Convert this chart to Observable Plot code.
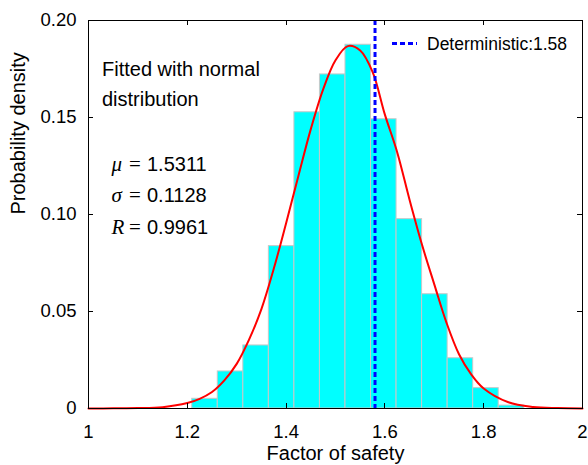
<!DOCTYPE html>
<html>
<head>
<meta charset="utf-8">
<script src="https://cdn.jsdelivr.net/npm/d3@7"></script>
<script src="https://cdn.jsdelivr.net/npm/@observablehq/plot@0.6"></script>
<style>
  html, body { margin: 0; padding: 0; background: #fff; }
  #chart { width: 588px; height: 465px; }
</style>
</head>
<body>
<div id="chart"></div>
<script>
// Histogram bin edges (factor of safety) and probability per bin
const binEdges = [1.2100, 1.2617, 1.3134, 1.3651, 1.4168, 1.4685, 1.5202, 1.5719, 1.6236, 1.6753, 1.7270, 1.7787, 1.8304, 1.8821];
const binDensity = [0.0050, 0.0191, 0.0325, 0.0837, 0.1527, 0.1722, 0.1875, 0.1491, 0.0976, 0.0589, 0.0259, 0.0105, 0.0015];

// Fitted normal curve
const fitX = [1.00, 1.05, 1.10, 1.15, 1.20, 1.225, 1.25, 1.275, 1.30, 1.325, 1.35, 1.375, 1.40, 1.425, 1.45, 1.475, 1.50, 1.525, 1.55, 1.575, 1.60, 1.625, 1.65, 1.675, 1.70, 1.725, 1.75, 1.775, 1.80, 1.85, 1.90, 1.95, 2.00];
const fitY = [0.0000, 0.0001, 0.0002, 0.0007, 0.0028, 0.0050, 0.0085, 0.0145, 0.0230, 0.0355, 0.0512, 0.0720, 0.0955, 0.1200, 0.1440, 0.1645, 0.1795, 0.1868, 0.1845, 0.1735, 0.1515, 0.1320, 0.1075, 0.0845, 0.0640, 0.0440, 0.0280, 0.0175, 0.0103, 0.0032, 0.0008, 0.0002, 0.0000];

// Deterministic factor of safety
const deterministic = [1.58];
const legendLabel = ["Deterministic:1.58"];

// Fit parameters
const fitSymbols = ["μ", "σ", "R"];
const fitValues = ["1.5311", "0.1128", "0.9961"];
const noteLines = ["Fitted with normal", "distribution"];

// Ticks
const xTicks = [1, 1.2, 1.4, 1.6, 1.8, 2];
const xTickLabels = ["1", "1.2", "1.4", "1.6", "1.8", "2"];
const yTicks = [0, 0.05, 0.10, 0.15, 0.20];
const yTickLabels = ["0", "0.05", "0.10", "0.15", "0.20"];

const xLabel = "Factor of safety";
const yLabel = "Probability density";

const bins = binDensity.map((d, i) => ({x1: binEdges[i], x2: binEdges[i + 1], y: d}));
const fit = fitX.map((x, i) => ({x, y: fitY[i]}));

const sans = "'Liberation Sans', Arial, Helvetica, sans-serif";
const serif = "'Liberation Serif', 'Times New Roman', serif";

// inward ticks on all four sides, placed with the plot's own scales
const innerTicks = (index, scales, values, dims) => {
  const g = d3.create("svg:g").attr("stroke", "#000").attr("stroke-width", 1);
  const L = dims.marginLeft, R = dims.width - dims.marginRight;
  const T = dims.marginTop, B = dims.height - dims.marginBottom;
  const len = 5;
  for (const t of xTicks) {
    const x = Math.round(scales.x(t)) + 0.5;
    g.append("line").attr("x1", x).attr("x2", x).attr("y1", B).attr("y2", B - len);
    g.append("line").attr("x1", x).attr("x2", x).attr("y1", T).attr("y2", T + len);
  }
  for (const t of yTicks) {
    const y = Math.round(scales.y(t)) + 0.5;
    g.append("line").attr("y1", y).attr("y2", y).attr("x1", L).attr("x2", L + len);
    g.append("line").attr("y1", y).attr("y2", y).attr("x1", R).attr("x2", R - len);
  }
  return g.node();
};

const legendSwatch = () => {
  const g = d3.create("svg:g");
  g.append("line")
    .attr("x1", 392).attr("x2", 417)
    .attr("y1", 43.5).attr("y2", 43.5)
    .attr("stroke", "#0000ff")
    .attr("stroke-width", 3)
    .attr("stroke-dasharray", "5,3");
  return g.node();
};

const chart = Plot.plot({
  width: 588,
  height: 465,
  marginLeft: 88,
  marginRight: 6,
  marginTop: 20,
  marginBottom: 57,
  style: {fontFamily: sans, fontSize: "18.5px", background: "#fff", color: "#000"},
  x: {domain: [1, 2], label: null},
  y: {domain: [0, 0.2], label: null},
  marks: [
    Plot.rectY(bins, {x1: "x1", x2: "x2", y: "y", fill: "#00ffff", stroke: "#c8c8c8", strokeWidth: 1}),
    Plot.line(fit, {x: "x", y: "y", stroke: "#ff0000", strokeWidth: 2, curve: "catmull-rom"}),
    Plot.ruleX(deterministic, {stroke: "#0000ff", strokeWidth: 3, strokeDasharray: "5,3"}),
    Plot.frame({stroke: "#000", strokeWidth: 1}),
    innerTicks,
    // tick labels
    Plot.axisX(xTicks, {anchor: "bottom", tickSize: 0, tickPadding: 16, fontSize: 18.5, tickFormat: (d, i) => xTickLabels[i], label: null}),
    Plot.axisY(yTicks, {anchor: "left", tickSize: 0, tickPadding: 12, fontSize: 18.5, tickFormat: (d, i) => yTickLabels[i], label: null}),
    // axis titles
    Plot.text([xLabel], {frameAnchor: "bottom", dy: 45, lineAnchor: "middle", fontSize: 20, fill: "#000"}),
    Plot.text([yLabel], {frameAnchor: "left", dx: -70, rotate: -90, lineAnchor: "middle", fontSize: 20, fill: "#000"}),
    // annotation
    Plot.text([noteLines[0]], {frameAnchor: "top-left", dx: 13.5, dy: 55, textAnchor: "start", lineAnchor: "bottom", fontSize: 20, fill: "#000"}),
    Plot.text([noteLines[1]], {frameAnchor: "top-left", dx: 13.5, dy: 85, textAnchor: "start", lineAnchor: "bottom", fontSize: 20, fill: "#000"}),
    ...fitSymbols.map((s, i) => Plot.text([s], {frameAnchor: "top-left", dx: 23, dy: 150 + i * 31.5, textAnchor: "start", lineAnchor: "bottom", fontSize: 21, fontFamily: serif, fontStyle: "italic", fill: "#000"})),
    ...fitSymbols.map((s, i) => Plot.text(["="], {frameAnchor: "top-left", dx: 46.5, dy: 150 + i * 31.5, textAnchor: "middle", lineAnchor: "bottom", fontSize: 21, fontFamily: serif, fill: "#000"})),
    ...fitValues.map((v, i) => Plot.text([v], {frameAnchor: "top-left", dx: 58.5, dy: 150 + i * 31.5, textAnchor: "start", lineAnchor: "bottom", fontSize: 20, fill: "#000"})),
    legendSwatch,
    Plot.text(legendLabel, {frameAnchor: "top-left", dx: 338.5, dy: 29, textAnchor: "start", lineAnchor: "bottom", fontSize: 17.5, fill: "#000"})
  ]
});
document.getElementById("chart").appendChild(chart);
</script>
</body>
</html>
